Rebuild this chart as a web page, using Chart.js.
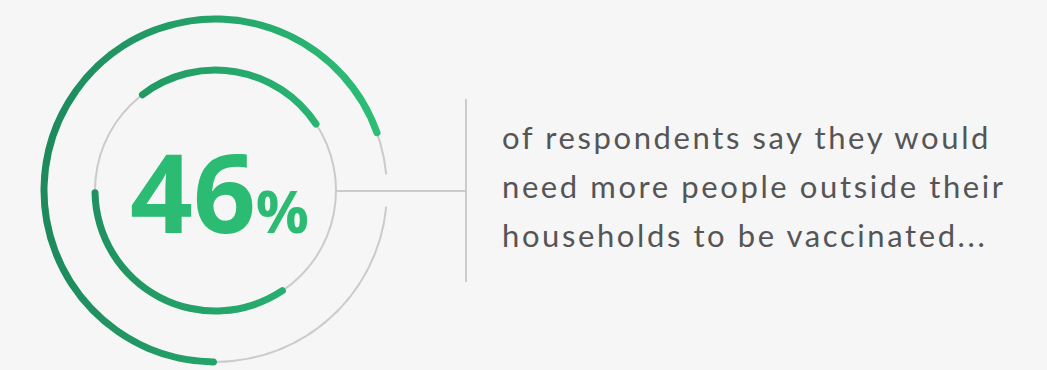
<!DOCTYPE html>
<html>
<head>
<meta charset="utf-8">
<script src="https://cdn.jsdelivr.net/npm/chart.js@4.4.1/dist/chart.umd.min.js"></script>
<style>
  html, body { margin: 0; padding: 0; }
  body {
    width: 1047px; height: 370px; overflow: hidden; position: relative;
    background: #f6f6f6; font-family: "Open Sans", Lato, sans-serif;
  }
  .ring { position: absolute; left: 35px; top: 10px; width: 361px; height: 361px; }
  .ring canvas { width: 361px; height: 361px; }
  #big {
    position: absolute; left: 130px; top: 135px; white-space: nowrap;
    font-size: 110px; line-height: 110px; font-weight: 700; color: #2bbb73;
  }
  #big span { font-size: 59px; }
  .hline { position: absolute; left: 336px; top: 190px; width: 130px; height: 2px; background: #cbcbcb; }
  .vline { position: absolute; left: 465px; top: 99px; width: 2px; height: 183px; background: #cbcbcb; }
  #caption {
    position: absolute; left: 502px; top: 113px; white-space: nowrap;
    font-family: Lato, "Open Sans", sans-serif;
    font-size: 31px; line-height: 49px; letter-spacing: 2.6px; color: #555555;
  }
</style>
</head>
<body>
<div class="ring"><canvas id="track" width="361" height="361"></canvas></div>
<div class="ring"><canvas id="arcs" width="361" height="361"></canvas></div>
<div class="hline"></div>
<div class="vline"></div>
<div id="big">46<span>%</span></div>
<div id="caption">of respondents say they would<br>need more people outside their<br>households to be vaccinated...</div>

<script>
// share of each ring, in percent, starting at the ring's rotation
const outerArc = [70, 30];          // green, empty
const innerArc = [27, 24, 35, 14];  // green, empty, green, empty
const outerTrack = [3, 97];         // gap for the connector, grey
const innerTrack = [100];

const outerArcStart = 179.5;
const innerArcStart = 321;
const outerTrackStart = 84.6;

const GREY = "#cbcbcb";
const NONE = "rgba(0,0,0,0)";

function greenGradient(c) {
  const { ctx, chartArea } = c.chart;
  if (!chartArea) return "#25a86c";
  const g = ctx.createLinearGradient(chartArea.left + 5, 0, chartArea.right - 5, 0);
  g.addColorStop(0, "#1d895c");
  g.addColorStop(1, "#2cc077");
  return g;
}
const greenOrNone = c => (c.dataIndex % 2 === 0 ? greenGradient(c) : NONE);

const base = {
  responsive: false,
  animation: false,
  events: [],
  layout: { padding: 0 },
  plugins: { legend: { display: false }, tooltip: { enabled: false } }
};

// thin grey tracks underneath
new Chart(document.getElementById("track"), {
  type: "doughnut",
  data: {
    datasets: [
      { data: outerTrack, rotation: outerTrackStart, weight: 2,
        backgroundColor: [NONE, GREY] },
      { data: [1], weight: 49, backgroundColor: NONE },
      { data: innerTrack, weight: 2, backgroundColor: GREY }
    ]
  },
  options: {
    ...base,
    radius: 172.5,
    cutout: (119.5 / 172.5 * 100) + "%",
    borderWidth: 0
  }
});

// green arcs on top
new Chart(document.getElementById("arcs"), {
  type: "doughnut",
  data: {
    datasets: [
      { data: outerArc, rotation: outerArcStart, weight: 7,
        backgroundColor: greenOrNone, borderRadius: 3.5 },
      { data: [1], weight: 44, backgroundColor: NONE },
      { data: innerArc, rotation: innerArcStart, weight: 7,
        backgroundColor: greenOrNone, borderRadius: 3.5 }
    ]
  },
  options: {
    ...base,
    radius: 175,
    cutout: (117 / 175 * 100) + "%",
    borderWidth: 0
  }
});
</script>
</body>
</html>
